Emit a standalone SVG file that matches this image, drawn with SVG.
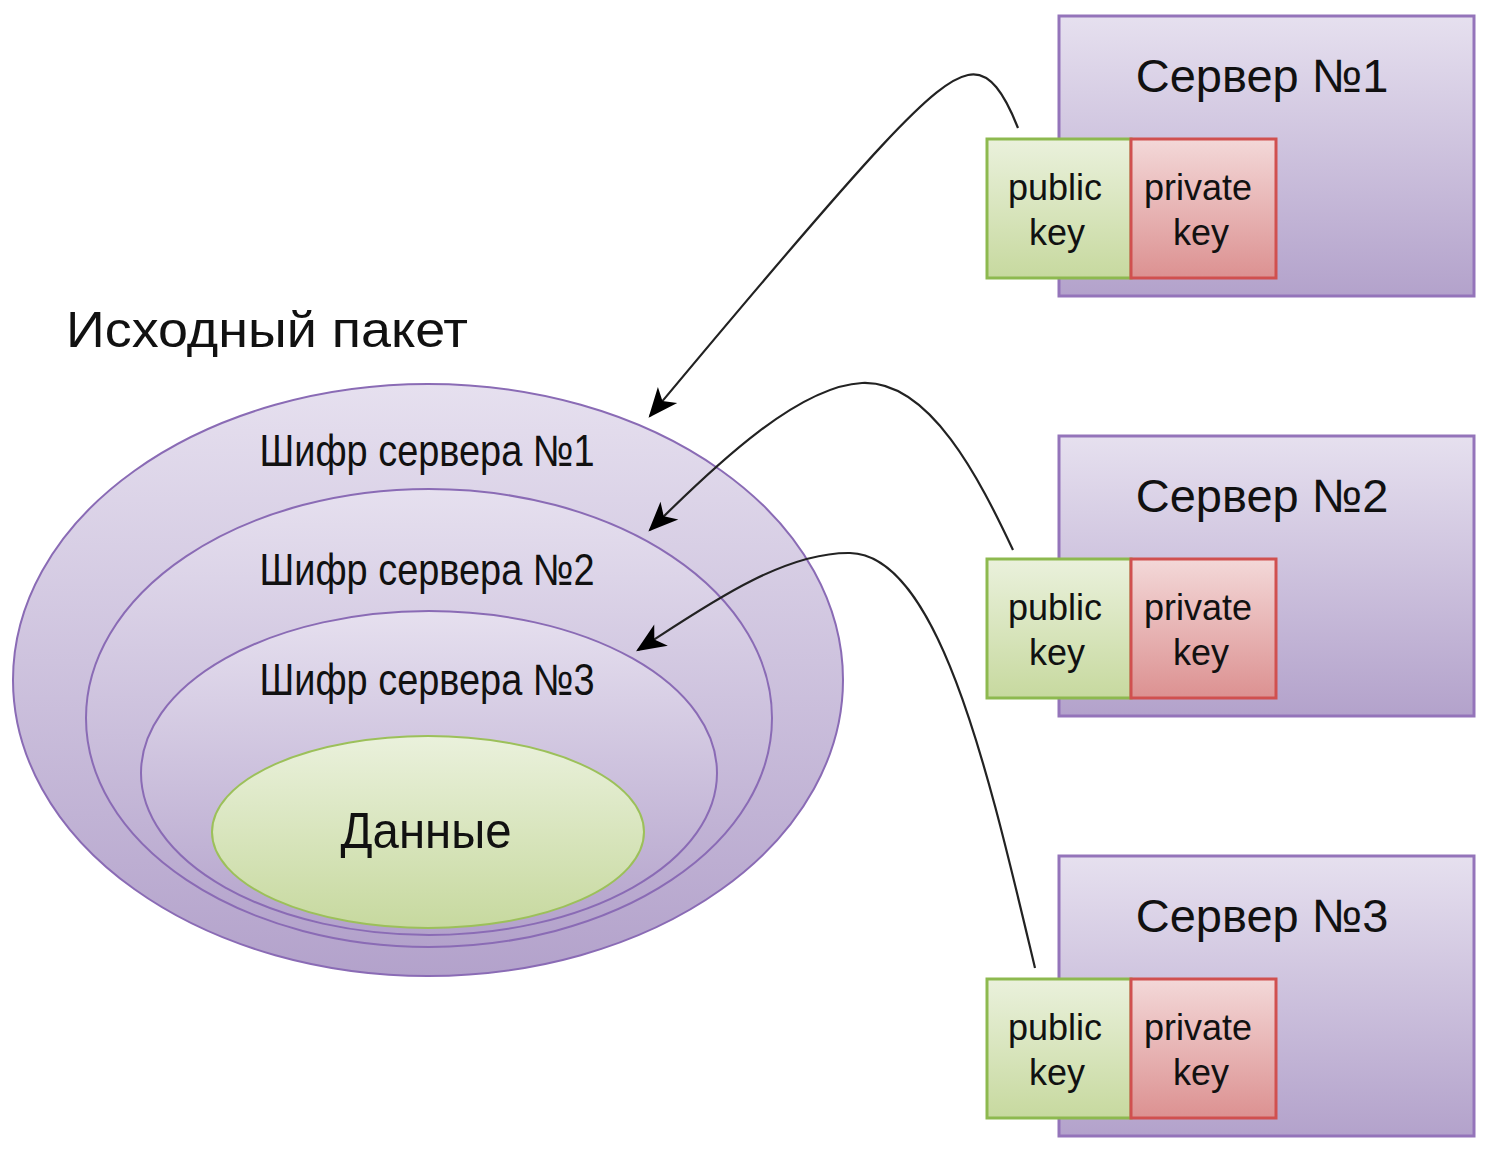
<svg xmlns="http://www.w3.org/2000/svg" width="1492" height="1158" viewBox="0 0 1492 1158">
<defs>
<linearGradient id="gPurple" x1="0" y1="0" x2="0" y2="1">
<stop offset="0" stop-color="#e6e0ef"/>
<stop offset="1" stop-color="#b3a2cb"/>
</linearGradient>
<linearGradient id="gGreen" x1="0" y1="0" x2="0" y2="1">
<stop offset="0" stop-color="#eaf1dc"/>
<stop offset="1" stop-color="#c7d99f"/>
</linearGradient>
<linearGradient id="gRed" x1="0" y1="0" x2="0" y2="1">
<stop offset="0" stop-color="#f3d8d8"/>
<stop offset="1" stop-color="#dc9191"/>
</linearGradient>
<marker id="arrow" markerUnits="userSpaceOnUse" markerWidth="40" markerHeight="40" refX="0" refY="0" viewBox="-30 -15 35 30" orient="auto" overflow="visible">
<path d="M2,0 L-24,-11 L-17,0 L-24,11 Z" fill="#000"/>
</marker>
</defs>
<style>
.srv{fill:url(#gPurple);stroke:#9474ba;stroke-width:3}
.pub{fill:url(#gGreen);stroke:#8db94f;stroke-width:3}
.prv{fill:url(#gRed);stroke:#d0504f;stroke-width:3}
.ell{fill:url(#gPurple);stroke:#8a6bb5;stroke-width:2}
.dat{fill:url(#gGreen);stroke:#9cc05a;stroke-width:2}
.t{font-family:"Liberation Sans",Arial,sans-serif;fill:#111;text-anchor:middle}
.ts{font-size:47px}
.tk{font-size:36px}
.tc{font-size:44px}
.conn{fill:none;stroke:#222;stroke-width:2.2;marker-end:url(#arrow)}
</style>
<rect width="1492" height="1158" fill="#fff"/>

<g id="packet">
<text class="t" x="66" y="347" style="text-anchor:start;font-size:50px" textLength="402" lengthAdjust="spacingAndGlyphs">Исходный пакет</text>
</g>
<g id="cipher1">
<ellipse class="ell" cx="428" cy="680" rx="415" ry="296"/>
<text class="t tc" x="427" y="466" textLength="335" lengthAdjust="spacingAndGlyphs">Шифр сервера №1</text>
</g>
<g id="cipher2">
<ellipse class="ell" cx="429" cy="718" rx="343" ry="229"/>
<text class="t tc" x="427" y="585" textLength="335" lengthAdjust="spacingAndGlyphs">Шифр сервера №2</text>
</g>
<g id="cipher3">
<ellipse class="ell" cx="429" cy="773" rx="288" ry="162"/>
<text class="t tc" x="427" y="695" textLength="335" lengthAdjust="spacingAndGlyphs">Шифр сервера №3</text>
</g>
<g id="data">
<ellipse class="dat" cx="428" cy="832" rx="216" ry="96"/>
<text class="t" x="426" y="848" style="font-size:50px" textLength="171" lengthAdjust="spacingAndGlyphs">Данные</text>
</g>

<g id="server1">
<rect class="srv" x="1059" y="16" width="415" height="280"/>
<text class="t ts" x="1262" y="92">Сервер №1</text>
</g>
<g id="pub1">
<rect class="pub" x="987" y="139" width="144" height="139"/>
<text class="t tk" x="1055" y="200">public</text>
<text class="t tk" x="1057" y="245">key</text>
</g>
<g id="prv1">
<rect class="prv" x="1131" y="139" width="145" height="139"/>
<text class="t tk" x="1198" y="200">private</text>
<text class="t tk" x="1201" y="245">key</text>
</g>

<g id="server2">
<rect class="srv" x="1059" y="436" width="415" height="280"/>
<text class="t ts" x="1262" y="512">Сервер №2</text>
</g>
<g id="pub2">
<rect class="pub" x="987" y="559" width="144" height="139"/>
<text class="t tk" x="1055" y="620">public</text>
<text class="t tk" x="1057" y="665">key</text>
</g>
<g id="prv2">
<rect class="prv" x="1131" y="559" width="145" height="139"/>
<text class="t tk" x="1198" y="620">private</text>
<text class="t tk" x="1201" y="665">key</text>
</g>

<g id="server3">
<rect class="srv" x="1059" y="856" width="415" height="280"/>
<text class="t ts" x="1262" y="932">Сервер №3</text>
</g>
<g id="pub3">
<rect class="pub" x="987" y="979" width="144" height="139"/>
<text class="t tk" x="1055" y="1040">public</text>
<text class="t tk" x="1057" y="1085">key</text>
</g>
<g id="prv3">
<rect class="prv" x="1131" y="979" width="145" height="139"/>
<text class="t tk" x="1198" y="1040">private</text>
<text class="t tk" x="1201" y="1085">key</text>
</g>

<g id="connectors">
<path class="conn" d="M1018,128 C1005,95 990,70 968,75 C935,82 880,140 650,416"/>
<path class="conn" d="M1013,550 C980,480 930,380 862,383 C800,386 720,460 650,530"/>
<path class="conn" d="M1035,968 C990,780 940,555 850,553 C780,552 700,610 638,650"/>
</g>
</svg>
